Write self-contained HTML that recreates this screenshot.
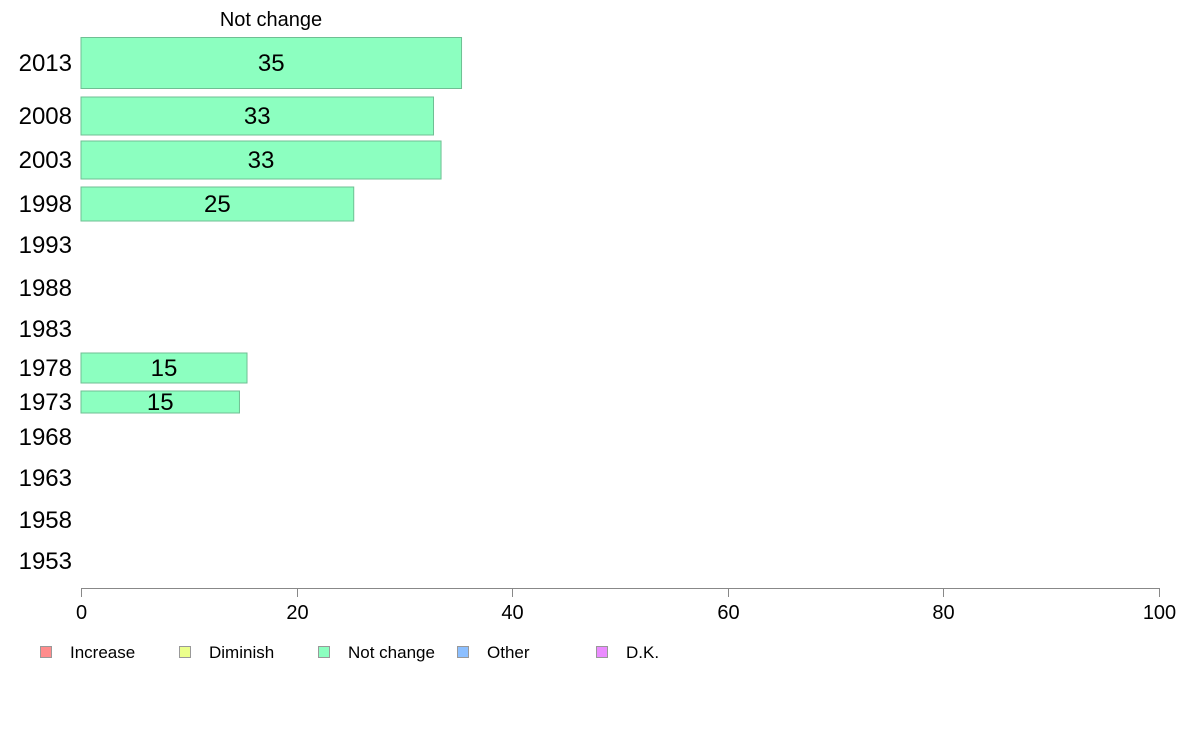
<!DOCTYPE html>
<html><head><meta charset="utf-8"><style>
body{margin:0;background:#fff;}
svg{display:block;font-family:"Liberation Sans",Arial,sans-serif;}
</style></head><body>
<svg id="chart" width="1188" height="736" viewBox="0 0 1188 736">
<text x="271" y="26" font-size="20" text-anchor="middle">Not change</text>
<g id="bars"></g>
<g id="axis"></g>
<g id="legend"></g>
</svg>
<script>
const years = ["2013","2008","2003","1998","1993","1988","1983","1978","1973","1968","1963","1958","1953"];
const values = [35.3, 32.7, 33.4, 25.3, null, null, null, 15.4, 14.7, null, null, null, null];
const labels = ["35","33","33","25","","","","15","15","","","",""];
const ticks = [0,20,40,60,80,100];
const legendNames = ["Increase","Diminish","Not change","Other","D.K."];
const legendColors = ["#ff8c8c","#ebff8c","#8cffc0","#8cbfff","#eb8cff"];
// layout (row centers / bar heights in px)
const rowY = [63,116,160,204,245,288,329,368,402,437,478,520,561];
const barH = [51,38,38,34,30,30,30,30,22,30,30,30,30];
const NS="http://www.w3.org/2000/svg";
const x0=81, x1=1159;
const xs=v=>x0+(v/100)*(x1-x0);
function mk(tag,attrs,parent){const e=document.createElementNS(NS,tag);for(const k in attrs)e.setAttribute(k,attrs[k]);parent.appendChild(e);return e;}
const gb=document.getElementById('bars');
years.forEach((y,i)=>{
  const t=mk('text',{x:72,y:rowY[i]+8,'font-size':24,'text-anchor':'end'},gb);
  
  
  t.textContent=y;
  if(values[i]!=null){
    const r=mk('rect',{x:x0,y:rowY[i]-barH[i]/2,width:xs(values[i])-x0,height:barH[i],fill:'#8cffc0',stroke:'#6fbf93','stroke-width':1},gb);
    
    
    const l=mk('text',{x:(x0+xs(values[i]))/2,y:rowY[i]+8,'font-size':24,'text-anchor':'middle'},gb);
    
    
    l.textContent=labels[i];
  }
});
const ga=document.getElementById('axis');
const al=mk('line',{x1:x0,x2:x1,y1:588.5,y2:588.5,stroke:'#888','stroke-width':1},ga);


ticks.forEach(t=>{
  const x=Math.round(xs(t))+0.5;
  const tl=mk('line',{x1:x,x2:x,y1:588,y2:597,stroke:'#888','stroke-width':1},ga);
  
  
  const tx=mk('text',{x:x,y:619,'font-size':20,'text-anchor':'middle'},ga);
  
  
  tx.textContent=t;
});
const gl=document.getElementById('legend');
legendNames.forEach((n,i)=>{
  const x=40+i*139;
  const s=mk('rect',{x:x+0.5,y:646.5,width:11,height:11,fill:legendColors[i],stroke:'#999','stroke-width':1},gl);
  
  
  const tx=mk('text',{x:x+30,y:658,'font-size':17},gl);
  
  
  tx.textContent=n;
});
</script>
</body></html>
